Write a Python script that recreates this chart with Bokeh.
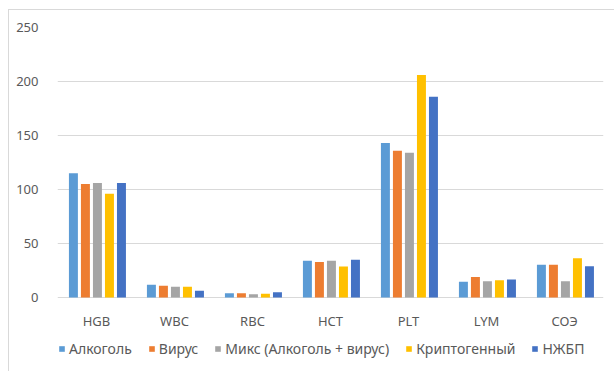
from bokeh.plotting import figure
from bokeh.models import ColumnDataSource, FactorRange, Legend, LegendItem, Range1d
from bokeh.core.properties import value
from bokeh.transform import dodge
from bokeh.embed import file_html
from bokeh.resources import INLINE

categories = ["HGB", "WBC", "RBC", "HCT", "PLT", "LYM", "СОЭ"]
series_names = ["Алкоголь", "Вирус", "Микс (Алкоголь + вирус)", "Криптогенный", "НЖБП"]
alcohol = [115, 11.8, 4, 34, 143, 14.5, 30.3]
virus = [105, 10.8, 4, 33, 136, 19, 30.3]
mix = [106, 10, 3, 34, 134, 15, 15]
crypto = [96, 10, 3.5, 28.7, 206, 16, 36.4]
nafld = [106, 6.2, 5, 35, 186, 16.7, 29]
colors = ["#5B9BD5", "#ED7D31", "#A5A5A5", "#FFC000", "#4472C4"]
y_ticks = [0, 50, 100, 150, 200, 250]

src = ColumnDataSource(dict(cat=categories, a=alcohol, v=virus, m=mix, c=crypto, n=nafld))

# frame extends below zero so the category labels and legend sit inside it
p = figure(x_range=FactorRange(*categories), y_range=Range1d(-65.7, 250),
           width=614, height=371, output_backend="svg", toolbar_location=None,
           min_border_left=57, min_border_right=11, min_border_top=27, min_border_bottom=3)
p.outline_line_color = None
p.border_fill_alpha = 0
p.background_fill_alpha = 0
p.styles = {
    "background": "linear-gradient(#d9d9d9,#d9d9d9) 8px 9px / 1px 362px no-repeat, "
                  "linear-gradient(#d9d9d9,#d9d9d9) 8px 9px / 606px 1px no-repeat, #ffffff"
}
p.x_range.range_padding = 0
p.x_range.group_padding = 0

step = 0.154
width = 0.115
renderers = []
for i, (col, color) in enumerate(zip(["a", "v", "m", "c", "n"], colors)):
    r = p.vbar(x=dodge("cat", (i - 2) * step + 0.012, range=p.x_range), top=col, width=width,
               source=src, fill_color=color, line_color=None)
    renderers.append(r)

# category labels (x axis hidden because the frame extends below zero)
label_y = -21.5
p.text(x=categories, y=[label_y] * len(categories), text=categories,
       text_align="center", text_baseline="middle", text_color="#595959",
       text_font=value("Noto Sans"), text_font_size="13px")
p.xaxis.visible = False

p.xgrid.grid_line_color = None
p.ygrid.grid_line_color = "#d9d9d9"
p.ygrid.grid_line_width = 1
p.yaxis.ticker = y_ticks
ax = p.yaxis[0]
ax.axis_line_color = None
ax.major_tick_line_color = None
ax.minor_tick_line_color = None
ax.major_label_text_color = "#595959"
ax.major_label_text_font = "Noto Sans"
ax.major_label_text_font_size = "13px"
ax.major_label_standoff = 13

legend = Legend(items=[LegendItem(label=n, renderers=[r]) for n, r in zip(series_names, renderers)],
                orientation="horizontal", location=(1, 10),
                label_text_font="Noto Sans", label_text_font_size="14px",
                label_text_color="#595959", glyph_width=7, glyph_height=7,
                label_standoff=4, spacing=16, padding=0, margin=0,
                border_line_color=None, background_fill_alpha=0)
p.add_layout(legend, "center")

open("out.html", "w").write(file_html(p, INLINE))
